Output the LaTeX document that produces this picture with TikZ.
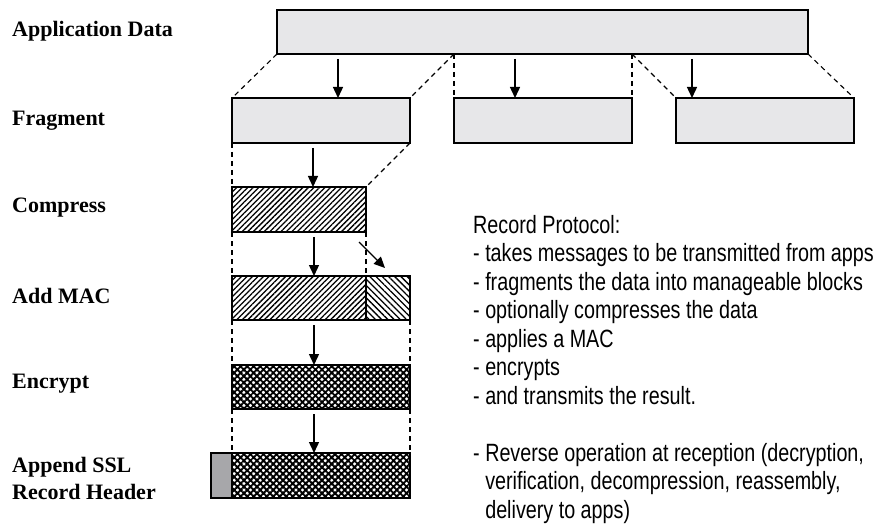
\documentclass[tikz,border=0pt]{standalone}
\usepackage{fontspec}
\setmainfont{Liberation Sans}
\newfontfamily\stagefont{Liberation Serif}
\newfontfamily\notefont[FakeStretch=0.79]{Liberation Sans}
\usetikzlibrary{arrows.meta,patterns.meta,calc}

\definecolor{blockgray}{RGB}{231,231,233}
\definecolor{headgray}{RGB}{167,167,170}

\tikzset{
    block/.style={draw, line width=1.9pt, inner sep=0pt, outer sep=0pt,
        minimum height=45pt, anchor=north west},
    plainblock/.style={block, fill=blockgray},
    zipblock/.style={block, pattern={Lines[angle=45,distance=3.9pt,line width=1.3pt]}},
    macblock/.style={block, pattern={Lines[angle=-45,distance=4.4pt,line width=1.3pt]}},
    cryptblock/.style={block, pattern={Hatch[angle=45,distance=4.6pt,line width=1.9pt]}},
    headblock/.style={block, fill=headgray},
    guide/.style={line width=1.1pt, dash pattern=on 5pt off 4pt},
    flow/.style={-{Triangle[length=11pt,width=10pt]}, line width=1.4pt},
    stage/.style={anchor=west, align=left, inner sep=0pt,
        font=\stagefont\bfseries\fontsize{22}{27}\selectfont},
}

\begin{document}
\begin{tikzpicture}[x=1pt,y=-1pt]
    \useasboundingbox (0,0) rectangle (877,529);

    %%%% Stage names ================================
    \node[stage] (lapp) at (12,31) {Application Data};
    \node[stage] (lfrag) at (12,121) {Fragment};
    \node[stage] (lzip) at (12,208) {Compress};
    \node[stage] (lmac) at (12,296) {Add MAC};
    \node[stage] (lenc) at (12,384) {Encrypt};
    \node[stage] (lhdr) at (12,478) {Append SSL\\Record Header};

    %%%% Blocks =====================================
    \node[plainblock, minimum width=531pt, minimum height=44pt] (app) at (277,10) {};
    \node[plainblock, minimum width=178pt] (f1) at (232,98) {};
    \node[plainblock, minimum width=178pt] (f2) at (454,98) {};
    \node[plainblock, minimum width=178pt] (f3) at (676,98) {};
    \node[zipblock, minimum width=134pt] (zip) at (232,187) {};
    \node[zipblock, minimum width=134pt, minimum height=44pt] (macd) at (232,276) {};
    \node[macblock, minimum width=44pt, minimum height=44pt] (mact) at (366,276) {};
    \node[cryptblock, minimum width=178pt, minimum height=44pt] (enc) at (232,365) {};
    \node[headblock, minimum width=21pt] (hdr) at (211,453) {};
    \node[cryptblock, minimum width=178pt] (rec) at (232,453) {};

    %%%% Dashed guides ==============================
    \coordinate (cutA) at (f2.north west |- app.south);
    \coordinate (cutB) at (f2.north east |- app.south);
    \draw[guide] (app.south west) -- (f1.north west);
    \draw[guide] (cutA) -- (f1.north east);
    \draw[guide] (cutA) -- (f2.north west);
    \draw[guide] (cutB) -- (f2.north east);
    \draw[guide] (cutB) -- (f3.north west);
    \draw[guide] (app.south east) -- (f3.north east);
    \draw[guide] (f1.south west) -- (zip.north west);
    \draw[guide] (f1.south east) -- (zip.north east);
    \draw[guide] (zip.south west) -- (macd.north west);
    \draw[guide] (zip.south east) -- (macd.north east);
    \draw[guide] (macd.south west) -- (enc.north west);
    \draw[guide] (mact.south east) -- (enc.north east);
    \draw[guide] (enc.south west) -- (rec.north west);
    \draw[guide] (enc.south east) -- (rec.north east);

    %%%% Arrows =====================================
    \coordinate (a1) at (338,59);
    \coordinate (a2) at (515,59);
    \coordinate (a3) at (692,59);
    \coordinate (a4) at (313,148);
    \coordinate (a5) at (314,237);
    \coordinate (a6) at (314,325);
    \coordinate (a7) at (314,414);
    \coordinate (d1) at (359,242);
    \coordinate (d2) at (385,268);
    \draw[flow] (a1) -- (a1 |- f1.north);
    \draw[flow] (a2) -- (a2 |- f2.north);
    \draw[flow] (a3) -- (a3 |- f3.north);
    \draw[flow] (a4) -- (a4 |- zip.north);
    \draw[flow] (a5) -- (a5 |- macd.north);
    \draw[flow] (d1) -- (d2);
    \draw[flow] (a6) -- (a6 |- enc.north);
    \draw[flow] (a7) -- (a7 |- rec.north);

    %%%% Notes ======================================
    \node[anchor=north west, align=left, inner sep=0pt,
          font=\notefont\fontsize{25}{28.5}\selectfont] (notes) at (473,215)
        {Record Protocol:\\
         - takes messages to be transmitted from apps\\
         - fragments the data into manageable blocks\\
         - optionally compresses the data\\
         - applies a MAC\\
         - encrypts\\
         - and transmits the result.\\[28.5pt]
         - Reverse operation at reception (decryption,\\
         \phantom{- }verification, decompression, reassembly,\\
         \phantom{- }delivery to apps)};
\end{tikzpicture}
\end{document}
